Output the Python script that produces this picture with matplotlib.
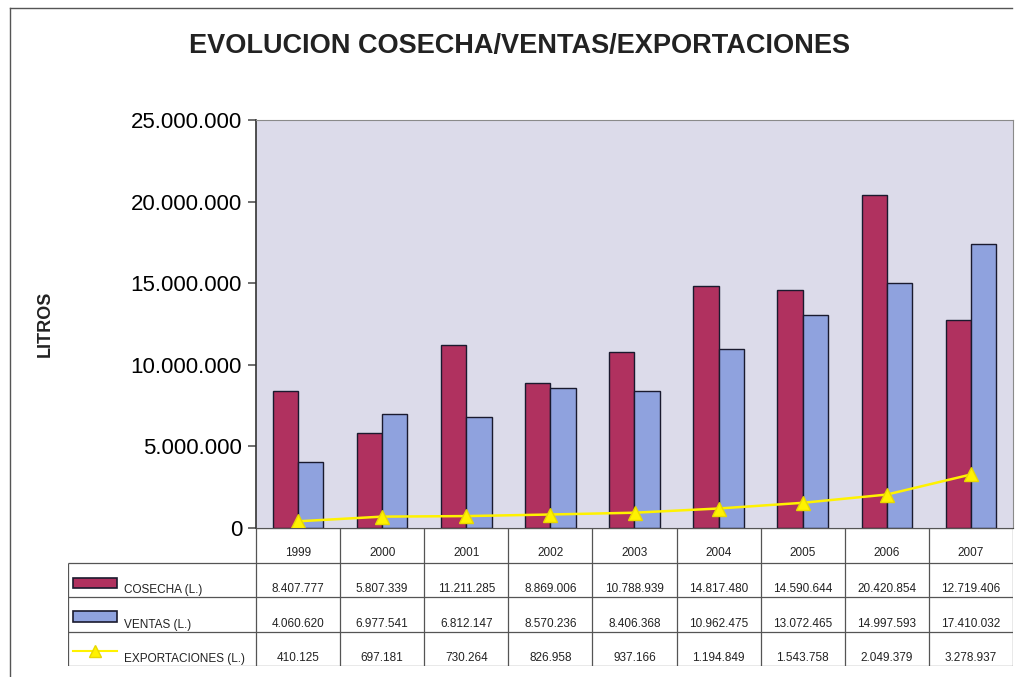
import numpy as np
import matplotlib
matplotlib.use("Agg")
import matplotlib.pyplot as plt
from matplotlib.patches import Rectangle
from matplotlib.lines import Line2D
from matplotlib.ticker import FuncFormatter

plt.rcParams['font.family'] = ['Liberation Sans', 'DejaVu Sans']

years = ["1999", "2000", "2001", "2002", "2003", "2004", "2005", "2006", "2007"]
cosecha = [8407777, 5807339, 11211285, 8869006, 10788939, 14817480, 14590644, 20420854, 12719406]
ventas = [4060620, 6977541, 6812147, 8570236, 8406368, 10962475, 13072465, 14997593, 17410032]
export = [410125, 697181, 730264, 826958, 937166, 1194849, 1543758, 2049379, 3278937]
series_names = ["COSECHA (L.)", "VENTAS (L.)", "EXPORTACIONES (L.)"]

c_cos = "#B0315F"
c_ven = "#8FA2DE"
c_exp = "#FFF200"
bg = "#DCDBEA"


def miles(v, pos=None):
    return f"{int(round(v)):,}".replace(",", ".")


fig = plt.figure(figsize=(10.2, 6.77), dpi=100)
W, H = 1020, 677

# main chart
ax = fig.add_axes([256 / W, 1 - 528 / H, (1013 - 256) / W, (528 - 120) / H])
ax.set_facecolor(bg)
x = np.arange(len(years)) + 0.5
bw = 0.3
ax.bar(x - bw / 2, cosecha, bw, color=c_cos, edgecolor="#1a1a2e", linewidth=1, zorder=2)
ax.bar(x + bw / 2, ventas, bw, color=c_ven, edgecolor="#1a1a2e", linewidth=1, zorder=2)
ax.plot(x, export, color=c_exp, lw=1.8, marker="^", markersize=10,
        markerfacecolor=c_exp, markeredgecolor="#E8D800", zorder=3)
ax.set_xlim(0, len(years))
ax.set_ylim(0, 25000000)
ax.set_yticks(np.arange(0, 25000001, 5000000))
ax.yaxis.set_major_formatter(FuncFormatter(miles))
ax.tick_params(axis="y", labelsize=16, length=5.5, width=1.2, color="#555555", pad=4.5)
ax.set_xticks([])
for s in ["top", "right"]:
    ax.spines[s].set_color("#8a8a8a")
ax.spines["left"].set_color("#333333")
ax.spines["left"].set_linewidth(1.2)
ax.spines["bottom"].set_color("#444444")
ax.set_ylabel("LITROS", fontsize=13, fontweight="bold", color="#222222", labelpad=0)
ax.yaxis.set_label_coords(-(256 - 54) / (1013 - 256), 0.5)

fig.text(520 / W, 1 - 46 / H, "EVOLUCION COSECHA/VENTAS/EXPORTACIONES",
         ha="center", va="center", fontsize=19.5, fontweight="bold", color="#222222")

# data table under the chart
lab_w = (256 - 68) / ((1013 - 256) / len(years))
tx = fig.add_axes([68 / W, 1 - 666 / H, (1013 - 68) / W, (666 - 528) / H])
tx.set_xlim(-lab_w, len(years))
tx.set_ylim(4, 0)
tx.axis("off")
lc = "#555555"
n = len(years)
tx.vlines(np.arange(n + 1), 0, 4, color=lc, lw=0.9)
tx.vlines(-lab_w, 1, 4, color=lc, lw=0.9)
tx.hlines([1, 2, 3, 4], -lab_w, n, color=lc, lw=0.9)
tx.hlines(0, 0, n, color=lc, lw=0.9)

fs = 8.5
for i, yr in enumerate(years):
    tx.text(i + 0.5, 0.72, yr, ha="center", va="center", fontsize=fs, color="#222222")
rows = [cosecha, ventas, export]
for r, vals in enumerate(rows):
    for i, v in enumerate(vals):
        tx.text(i + 0.5, r + 1.77, miles(v), ha="center", va="center", fontsize=fs, color="#222222")
    tx.text(-lab_w + (124 - 68) / 84.1, r + 1.8, series_names[r], ha="left", va="center",
            fontsize=fs, color="#222222")

sx0 = -lab_w + (73 - 68) / 84.1
sw = (117 - 73) / 84.1
tx.add_patch(Rectangle((sx0, 1.45), sw, 0.3, facecolor=c_cos, edgecolor="#1a1a2e", lw=1.2))
tx.add_patch(Rectangle((sx0, 2.42), sw, 0.3, facecolor=c_ven, edgecolor="#1a1a2e", lw=1.2))
tx.plot([sx0, sx0 + sw], [3.57, 3.57], color=c_exp, lw=1.5)
tx.plot([sx0 + sw / 2], [3.57], marker="^", markersize=9, color=c_exp, markeredgecolor="#E8D800")

# outer frame of the sheet
fig.add_artist(Line2D([10 / W, 1012 / W], [1 - 8 / H, 1 - 8 / H], color="#555555", lw=1))
fig.add_artist(Line2D([10 / W, 10 / W], [0, 1 - 8 / H], color="#555555", lw=1))

fig.savefig("out.png", dpi=100)
